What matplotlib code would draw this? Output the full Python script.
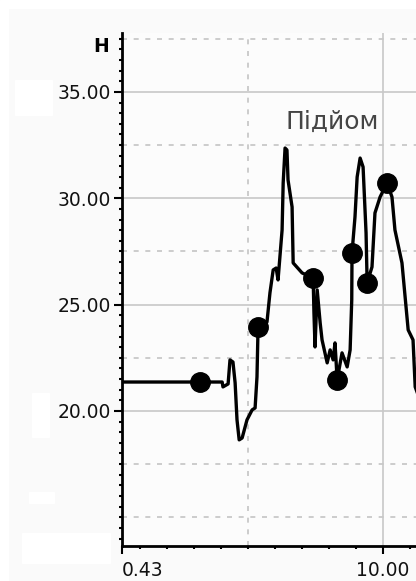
import matplotlib
matplotlib.use("Agg")
import matplotlib.pyplot as plt
from matplotlib.patches import Rectangle

# height trace (time, H)
time = [0.33, 3.22, 4.04, 4.07, 4.26, 4.33, 4.44, 4.52, 4.59, 4.67, 4.78, 4.96,
        5.15, 5.26, 5.33, 5.37, 5.52, 5.70, 5.81, 5.93, 6.04, 6.11, 6.26, 6.30,
        6.37, 6.44, 6.48, 6.63, 6.67, 7.00, 7.41, 7.44, 7.48, 7.56, 7.67, 7.74,
        7.93, 8.04, 8.15, 8.22, 8.30, 8.48, 8.67, 8.78, 8.84, 8.85, 8.96, 9.04,
        9.15, 9.26, 9.37, 9.41, 9.59, 9.70, 9.89, 10.15, 10.33, 10.44, 10.70,
        10.93, 11.11, 11.19, 11.37]
height = [21.36, 21.36, 21.36, 21.13, 21.27, 22.40, 22.30, 21.32, 19.58, 18.64,
          18.73, 19.58, 20.05, 20.14, 21.60, 23.95, 23.95, 24.18, 25.55, 26.63,
          26.72, 26.16, 28.51, 30.72, 32.36, 32.27, 30.86, 29.59, 26.96, 26.49,
          26.25, 24.61, 23.01, 25.69, 24.14, 23.34, 22.26, 22.87, 22.40, 23.20,
          21.46, 22.73, 22.07, 22.87, 25.22, 27.43, 29.12, 31.00, 31.89, 31.47,
          28.37, 26.02, 26.77, 29.31, 30.06, 30.72, 30.06, 28.51, 26.96, 23.81,
          23.34, 21.13, 20.50]

# marked points
mark_time = [3.22, 5.37, 7.41, 8.30, 8.85, 9.41, 10.15]
mark_height = [21.36, 23.95, 26.25, 21.46, 27.43, 26.02, 30.72]

y_major = [20, 25, 30, 35]
y_dashed = [15, 17.5, 22.5, 27.5, 32.5, 37.5]
x_solid = [10]
x_dashed = [5]

fig = plt.figure(figsize=(4.16, 5.81), dpi=100, facecolor="#fafafa")
# white border / erased label patches
for x0, y0, w, h in [(0, 573, 416, 8), (0, 0, 8, 581), (15, 466, 37, 35),
                     (32, 144, 17, 44), (29, 78, 25, 11), (22, 18, 88, 30)]:
    fig.patches.append(Rectangle((x0 / 416, y0 / 581), w / 416, h / 581,
                                 transform=fig.transFigure, color="white", zorder=0))

ax = fig.add_axes([122 / 416, 35 / 581, 294 / 416, 513 / 581])
ax.set_facecolor("#fcfcfc")
ax.set_xlim(0.33, 11.22)
ax.set_ylim(13.65, 37.77)

for v in y_major:
    ax.axhline(v, color="#c8c8c8", lw=1.2, zorder=1)
for v in y_dashed:
    ax.axhline(v, color="#c4c4c4", lw=1.2, ls=(0, (3, 4)), zorder=1)
for v in x_solid:
    ax.axvline(v, color="#c8c8c8", lw=1.2, zorder=1)
for v in x_dashed:
    ax.axvline(v, color="#c4c4c4", lw=1.2, ls=(0, (3, 4)), zorder=1)

ax.plot(time, height, color="black", lw=2.4, zorder=3)
ax.plot(mark_time, mark_height, "o", color="black", ms=14, zorder=4)

for side in ["top", "right"]:
    ax.spines[side].set_visible(False)
for side in ["left", "bottom"]:
    ax.spines[side].set_linewidth(2)
    ax.spines[side].set_color("black")

ax.set_yticks(y_major)
ax.set_yticklabels([f"{v:.2f}" for v in y_major])
ax.set_yticks([v / 2 for v in range(28, 76)], minor=True)
ax.set_xticks([0.33, 10])
ax.set_xticklabels(["0.43", "10.00"])
ax.set_xticks(list(range(1, 12)), minor=True)
ax.xaxis.get_majorticklabels()[0].set_horizontalalignment("left")

ax.tick_params(axis="both", which="major", length=6, width=1.5, color="black",
               labelsize=13.5, labelcolor="#111111", pad=2)
ax.tick_params(axis="x", which="major", pad=5)
ax.tick_params(axis="both", which="minor", length=2.5, width=1.5, color="black")

fig.text(101.5 / 416, 1 - 46 / 581, "H", fontsize=13.5, fontweight="bold",
         ha="center", va="center")
ax.text(0.714, 0.826, "Підйом", transform=ax.transAxes, fontsize=18,
        color="#454545", ha="center", va="center")

fig.savefig("out.png", dpi=100, facecolor=fig.get_facecolor())
